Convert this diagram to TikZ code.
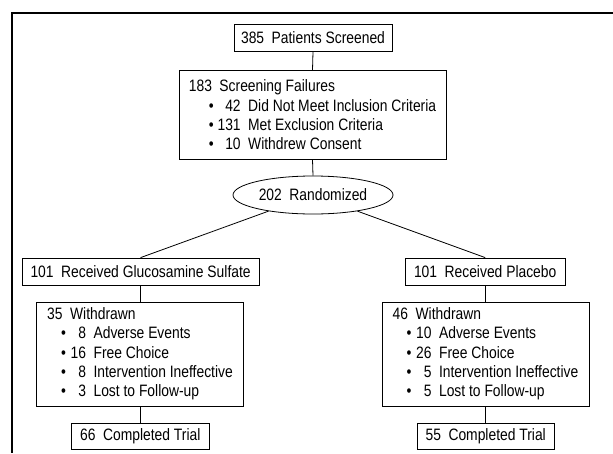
\documentclass[tikz,border=0pt]{standalone}
\usepackage{fontspec}
\setmainfont{Liberation Sans}[FakeStretch=0.84]
\usepackage{tikz}
\usetikzlibrary{shapes.geometric,positioning}

\newcommand{\numgap}{\hspace{7.5pt}}
\newcommand{\bulitem}[4]{\hspace*{#1}\textbullet\makebox[#2][r]{#3}\numgap#4}

\begin{document}
\begin{tikzpicture}[x=1pt,y=-1pt,
    txt/.style={font=\fontsize{16.5}{19.3}\selectfont},
    boxnode/.style={txt,draw,line width=0.8pt,inner sep=0pt,minimum height=27pt},
    listnode/.style={txt,draw,line width=0.8pt,inner sep=0pt,align=left},
    link/.style={line width=0.8pt}]

    \useasboundingbox (0,0) rectangle (613,453);
    \draw[line width=1.6pt] (613,13) -- (11.7,13) -- (11.7,453);

    \node[boxnode,minimum width=158pt] (screened) at (313,37.8) {385\numgap Patients Screened};
    \node[listnode,minimum width=267pt,minimum height=88.5pt] (failures) at (312.5,114.8)
        {183\numgap Screening Failures\\
         \bulitem{20pt}{27pt}{42}{Did Not Meet Inclusion Criteria}\\
         \bulitem{20pt}{27pt}{131}{Met Exclusion Criteria}\\
         \bulitem{20pt}{27pt}{10}{Withdrew Consent}};
    \node[txt,draw,ellipse,line width=0.8pt,inner sep=0pt,minimum width=160pt,minimum height=38pt] (randomized) at (313,195) {202\numgap Randomized};

    \node[boxnode,minimum width=236.7pt] (glucosamine) at (140.6,271.5) {101\numgap Received Glucosamine Sulfate};
    \node[boxnode,minimum width=159.6pt] (placebo) at (485.2,271.5) {101\numgap Received Placebo};

    \node[listnode,minimum width=206.6pt,minimum height=104pt] (withdrawnA) at (140,354)
        {35\numgap Withdrawn\\
         \bulitem{14pt}{20pt}{8}{Adverse Events}\\
         \bulitem{14pt}{20pt}{16}{Free Choice}\\
         \bulitem{14pt}{20pt}{8}{Intervention Ineffective}\\
         \bulitem{14pt}{20pt}{3}{Lost to Follow-up}};
    \node[listnode,minimum width=207pt,minimum height=104pt] (withdrawnB) at (485.5,354)
        {46\numgap Withdrawn\\
         \bulitem{14pt}{20pt}{10}{Adverse Events}\\
         \bulitem{14pt}{20pt}{26}{Free Choice}\\
         \bulitem{14pt}{20pt}{5}{Intervention Ineffective}\\
         \bulitem{14pt}{20pt}{5}{Lost to Follow-up}};

    \node[boxnode,minimum width=137.3pt,minimum height=26pt] (completedA) at (140.3,436) {66\numgap Completed Trial};
    \node[boxnode,minimum width=137.3pt,minimum height=26pt] (completedB) at (485.7,436) {55\numgap Completed Trial};

    \draw[link] (screened.south) -- (failures.north);
    \draw[link] (failures.south) -- (randomized.north);
    \draw[link] (randomized) -- (glucosamine.north);
    \draw[link] (randomized) -- (placebo.north);
    \draw[link] (glucosamine.south) -- (withdrawnA.north -| glucosamine.south);
    \draw[link] (placebo.south) -- (withdrawnB.north -| placebo.south);
    \draw[link] (withdrawnA.south -| completedA.north) -- (completedA.north);
    \draw[link] (withdrawnB.south -| completedB.north) -- (completedB.north);

\end{tikzpicture}
\end{document}
